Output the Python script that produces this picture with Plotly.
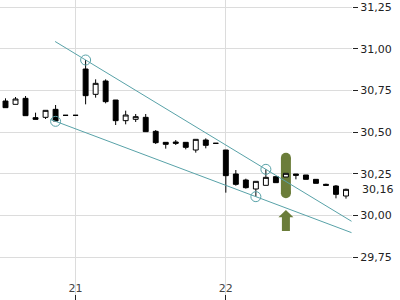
import plotly.graph_objects as go

# ---- data ----
idx = list(range(35))
opens  = [30.686, 30.666, 30.702, 30.586, 30.588, 30.636, 30.600, 30.600, 30.878, 30.726,
          30.806, 30.692, 30.568, 30.576, 30.588, 30.504, 30.438, 30.440, 30.438, 30.392,
          30.452, 30.432, 30.392, 30.248, 30.212, 30.158, 30.180, 30.232, 30.230, 30.248,
          30.242, 30.216, 30.186, 30.176, 30.116]
highs  = [30.702, 30.710, 30.716, 30.616, 30.630, 30.662, 30.600, 30.600, 30.932, 30.816,
          30.816, 30.692, 30.628, 30.608, 30.608, 30.512, 30.438, 30.452, 30.438, 30.456,
          30.462, 30.432, 30.392, 30.272, 30.220, 30.204, 30.276, 30.232, 30.252, 30.248,
          30.242, 30.216, 30.190, 30.182, 30.160]
lows   = [30.646, 30.666, 30.598, 30.576, 30.578, 30.564, 30.600, 30.600, 30.666, 30.706,
          30.672, 30.542, 30.546, 30.560, 30.502, 30.428, 30.400, 30.422, 30.396, 30.376,
          30.402, 30.432, 30.136, 30.178, 30.160, 30.112, 30.180, 30.196, 30.230, 30.216,
          30.216, 30.192, 30.176, 30.102, 30.100]
closes = [30.646, 30.698, 30.598, 30.576, 30.630, 30.566, 30.600, 30.600, 30.718, 30.792,
          30.682, 30.568, 30.602, 30.592, 30.502, 30.436, 30.426, 30.432, 30.408, 30.456,
          30.420, 30.432, 30.238, 30.186, 30.166, 30.204, 30.228, 30.196, 30.252, 30.240,
          30.216, 30.192, 30.180, 30.126, 30.156]

day_tick_pos = [7, 22]
day_tick_text = ["21", "22"]
y_ticks = [29.75, 30.00, 30.25, 30.50, 30.75, 31.00, 31.25]

upper_anchor = [8, 26]      # touches highs
lower_anchor = [5, 25]      # touches lows
upper_start, lower_start, line_end = 4.95, 4.5, 34.55

signal_idx = 28
signal_top, signal_bottom = 30.346, 30.132
arrow_tip, arrow_head_base, arrow_tail = 30.032, 29.988, 29.906

teal = "#58a2a8"
olive = "#6b7d3a"
x_range = [-0.55, 34.6]
y_range = [29.492, 31.292]
plot_w, plot_h = 352, 300


def trend(anchor, series, x0, x1):
    a, b = anchor
    slope = (series[b] - series[a]) / (b - a)
    return [x0, x1], [series[a] + slope * (x0 - a), series[a] + slope * (x1 - a)]


px_x = plot_w / (x_range[1] - x_range[0])
px_y = plot_h / (y_range[1] - y_range[0])

fig = go.Figure()

fig.add_trace(go.Candlestick(
    x=idx, open=opens, high=highs, low=lows, close=closes,
    increasing=dict(fillcolor="white", line=dict(color="black", width=1)),
    decreasing=dict(fillcolor="black", line=dict(color="black", width=1)),
    whiskerwidth=0, showlegend=False))

ux, uy = trend(upper_anchor, highs, upper_start, line_end)
lx, ly = trend(lower_anchor, lows, lower_start, line_end)
for xs, ys in [(ux, uy), (lx, ly)]:
    fig.add_trace(go.Scatter(x=xs, y=ys, mode="lines", line=dict(color=teal, width=1),
                             hoverinfo="skip", showlegend=False))

fig.add_trace(go.Scatter(
    x=upper_anchor + lower_anchor,
    y=[highs[i] for i in upper_anchor] + [lows[i] for i in lower_anchor],
    mode="markers", marker=dict(symbol="circle-open", size=10, color=teal, line=dict(width=1)),
    hoverinfo="skip", showlegend=False))

# signal pill (between grid and traces)
s = signal_idx
hw = 5 / px_x
rh = 5 / px_y
fig.add_shape(type="rect", xref="x", yref="y", x0=s - hw, x1=s + hw,
              y0=signal_bottom, y1=signal_top, fillcolor=olive, line=dict(width=0), layer="between")
for yc in (signal_top, signal_bottom):
    fig.add_shape(type="circle", xref="x", yref="y", x0=s - hw, x1=s + hw,
                  y0=yc - rh, y1=yc + rh, fillcolor=olive, line=dict(width=0), layer="between")

# arrow
hw_head = 7.5 / px_x
hw_shaft = 4 / px_x
path = (f"M {s} {arrow_tip} L {s + hw_head} {arrow_head_base} L {s + hw_shaft} {arrow_head_base} "
        f"L {s + hw_shaft} {arrow_tail} L {s - hw_shaft} {arrow_tail} L {s - hw_shaft} {arrow_head_base} "
        f"L {s - hw_head} {arrow_head_base} Z")
fig.add_shape(type="path", path=path, xref="x", yref="y", fillcolor=olive,
              line=dict(width=0), layer="above")

fig.add_annotation(x=1, xref="paper", y=closes[-1], yref="y", xanchor="left",
                   text=f"{closes[-1]:.2f}".replace(".", ","), showarrow=False, xshift=8,
                   font=dict(family="DejaVu Sans", size=11, color="#222"))

fig.update_layout(
    width=400, height=300, margin=dict(l=0, r=48, t=0, b=0),
    paper_bgcolor="white", plot_bgcolor="white", separators=",.",
    font=dict(family="DejaVu Sans", size=11, color="#222"),
    xaxis=dict(range=x_range, tickvals=day_tick_pos, ticktext=day_tick_text,
               showgrid=True, gridcolor="#dcdcdc", gridwidth=1, zeroline=False,
               ticks="inside", ticklen=5, tickcolor="#222", ticklabelposition="inside",
               showline=False, rangeslider=dict(visible=False), fixedrange=True),
    yaxis=dict(range=y_range, side="right", tickvals=y_ticks, tickformat=".2f",
               showgrid=True, gridcolor="#dcdcdc", gridwidth=1, zeroline=False,
               ticks="outside", ticklen=5, tickcolor="#222", showline=False, fixedrange=True),
)

fig.write_html("out.html")
